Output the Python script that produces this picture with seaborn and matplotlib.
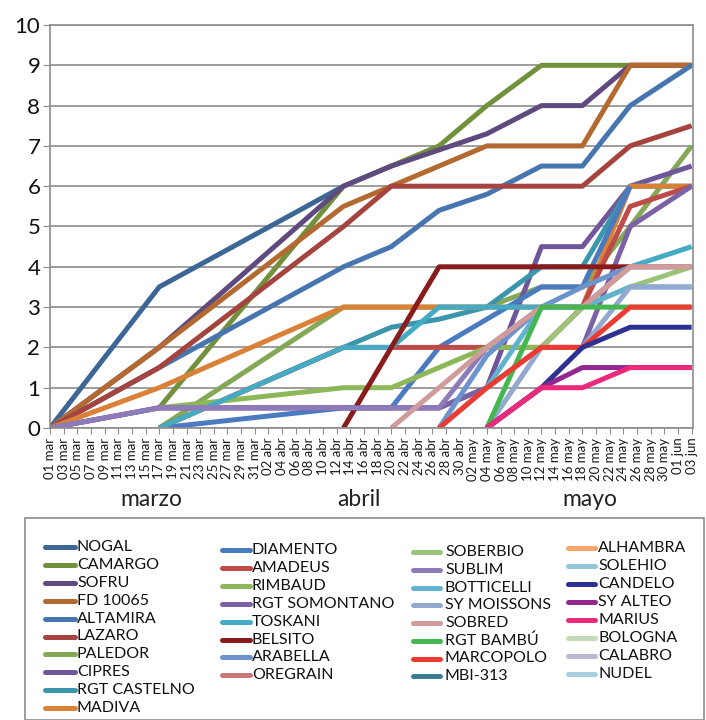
import numpy as np
import pandas as pd
import matplotlib
matplotlib.use('Agg')
import matplotlib.pyplot as plt
import seaborn as sns
from matplotlib.lines import Line2D
from matplotlib.patches import Rectangle

nan = np.nan

# fechas de observación
dates = ['2014-03-01', '2014-03-17', '2014-04-13', '2014-04-20', '2014-04-27',
         '2014-05-04', '2014-05-12', '2014-05-18', '2014-05-25', '2014-06-03']

names = ['NOGAL', 'CAMARGO', 'SOFRU', 'FD 10065', 'ALTAMIRA', 'LAZARO', 'PALEDOR',
         'CIPRES', 'RGT CASTELNO', 'MADIVA', 'DIAMENTO', 'AMADEUS', 'RIMBAUD',
         'RGT SOMONTANO', 'TOSKANI', 'BELSITO', 'ARABELLA', 'OREGRAIN', 'SOBERBIO',
         'SUBLIM', 'BOTTICELLI', 'SY MOISSONS', 'SOBRED', 'RGT BAMBÚ', 'MARCOPOLO',
         'MBI-313', 'ALHAMBRA', 'SOLEHIO', 'CANDELO', 'SY ALTEO', 'MARIUS',
         'BOLOGNA', 'CALABRO', 'NUDEL']

colors = ['#3b6695', '#71913d', '#5e4a7e', '#b3692f', '#4675b0', '#a5443f', '#84a857',
          '#6f569a', '#3b95ab', '#da8138', '#4a7abf', '#be4b48', '#8db85a',
          '#7b62a5', '#45aac4', '#881c1c', '#6d93cc', '#c97778', '#9cc37a',
          '#8e7cba', '#62b3cf', '#93a9d0', '#d09b9b', '#45b750', '#ee3b32',
          '#3b7e8f', '#f9a66a', '#93c6d6', '#2e3192', '#92278f', '#ec297b',
          '#c3d9b8', '#bdb7d3', '#a9cfe0']

nogal = [0, 3.5, 6, nan, nan, nan, nan, nan, nan, nan]
camargo = [nan, 0.5, 6, 6.5, 7, 8, 9, 9, 9, 9]
sofru = [0, 2, 6, 6.5, 6.9, 7.3, 8, 8, 9, 9]
fd10065 = [0, 2, 5.5, 6, 6.5, 7, 7, 7, 9, 9]
altamira = [0, 1.5, 4, 4.5, 5.4, 5.8, 6.5, 6.5, 8, 9]
lazaro = [0, 1.5, 5, 6, 6, 6, 6, 6, 7, 7.5]
paledor = [nan, 0, 3, 3, 3, 3, 3.5, 3.5, 5, 7]
cipres = [0, 0.5, 0.5, 0.5, 0.5, 1, 4.5, 4.5, 6, 6.5]
castelno = [nan, 0, 2, 2.5, 2.7, 3, 4, 4, 6, 6]
madiva = [0, 1, 3, 3, 3, 3, 3, 3, 6, 6]
diamento = [nan, 0, 0.5, 0.5, 2, 2.7, 3.5, 3.5, 6, nan]
amadeus = [nan, 0, 2, 2, 2, 2, 2, 3, 5.5, 6]
rimbaud = [nan, 0.5, 1, 1, 1.5, 2, 2, nan, nan, nan]
somontano = [0, 0.5, 0.5, 0.5, 0.5, 1, 2, 2, 5, 6]
toskani = [nan, 0, 2, 2, 3, 3, 3, 3, 4, 4.5]
belsito = [nan, nan, 0, 2, 4, 4, 4, 4, 4, nan]
arabella = [nan, nan, nan, nan, 0, 1.8, 3, 3.5, 4, 4]
oregrain = [nan, nan, nan, nan, nan, nan, 2, 3, 4, 4]
soberbio = [nan, nan, nan, nan, nan, nan, 2, 3, 3.5, 4]
sublim = [0, 0.5, 0.5, 0.5, 0.5, 2, 3, 3, nan, nan]
botticelli = [nan, nan, nan, nan, 0, 1, 3, 3, 3.5, 3.5]
moissons = [nan, nan, nan, nan, nan, 0, 2, 2, 3.5, 3.5]
sobred = [nan, nan, nan, 0, 1, 2, 3, 3, 4, 4]
bambu = [nan, nan, nan, nan, nan, 0, 3, 3, 3, 3]
marcopolo = [nan, nan, nan, nan, 0, 1, 2, 2, 3, 3]
mbi313 = [nan] * 10
alhambra = [nan] * 10
solehio = [nan] * 10
candelo = [nan, nan, nan, nan, nan, 0, 1, 2, 2.5, 2.5]
syalteo = [nan, nan, nan, nan, nan, 0, 1, 1.5, 1.5, 1.5]
marius = [nan, nan, nan, nan, nan, 0, 1, 1, 1.5, 1.5]
bologna = [nan] * 10
calabro = [nan] * 10
nudel = [nan] * 10

series = [nogal, camargo, sofru, fd10065, altamira, lazaro, paledor, cipres, castelno,
          madiva, diamento, amadeus, rimbaud, somontano, toskani, belsito, arabella,
          oregrain, soberbio, sublim, botticelli, moissons, sobred, bambu, marcopolo,
          mbi313, alhambra, solehio, candelo, syalteo, marius, bologna, calabro, nudel]

start = pd.Timestamp('2014-03-01')
days = (pd.to_datetime(dates) - start).days.values

rows = []
for n, vals in zip(names, series):
    for d, v in zip(days, vals):
        rows.append((n, d, v))
df = pd.DataFrame(rows, columns=['variedad', 'dia', 'valor']).dropna()

sns.set_style('white')
plt.rcParams['font.family'] = ['Lato', 'DejaVu Sans']

W, H = 706, 720
fig = plt.figure(figsize=(W / 100, H / 100), dpi=100)
ax = fig.add_axes([50 / W, 1 - 428 / H, (693 - 50) / W, (428 - 25) / H])

palette = dict(zip(names, colors))
sns.lineplot(data=df, x='dia', y='valor', hue='variedad', hue_order=names,
             palette=palette, estimator=None, sort=True, legend=False,
             linewidth=3.6, ax=ax, solid_joinstyle='round', solid_capstyle='butt')

ax.set_xlim(0, 94.2)
ax.set_ylim(0, 10)
ax.set_yticks(range(0, 11))
ax.yaxis.grid(True, color='#8c8c8c', linewidth=1.2)
ax.set_axisbelow(True)
for s in ax.spines.values():
    s.set_color('#8c8c8c')
    s.set_linewidth(1.2)

# etiquetas del eje x cada 2 días
meses = {3: 'mar', 4: 'abr', 5: 'may', 6: 'jun'}
tick_dates = pd.date_range(start, '2014-06-03', freq='2D')
tick_days = (tick_dates - start).days.values
tick_labels = [f'{t.day:02d} {meses[t.month]}' for t in tick_dates]
ax.set_xticks(tick_days)
ax.set_xticklabels(tick_labels, rotation=90, fontsize=9.5, color='#1a1a1a')
ax.tick_params(axis='x', length=4, color='#8c8c8c', pad=3, direction='out', bottom=True)
ax.tick_params(axis='y', length=5, color='#8c8c8c', labelsize=16, labelcolor='#111111',
               direction='out', left=True, pad=2)
ax.set_xlabel('')
ax.set_ylabel('')

# nombres de los meses
month_names = ['marzo', 'abril', 'mayo']
month_x = [151, 359, 590]
for m, x in zip(month_names, month_x):
    fig.text(x / W, 1 - 500 / H, m, ha='center', va='center', fontsize=16.5, color='#222222')

# leyenda manual en 4 columnas
fig.add_artist(Rectangle((25 / W, 0), (704 - 25) / W, 1 - 518 / H, transform=fig.transFigure,
                         fill=False, edgecolor='#8c8c8c', linewidth=1.2))
cols = [(0, 10, 45, 75, 77, 547, 17.9), (10, 18, 222, 250, 252, 550, 17.9),
        (18, 26, 413, 440, 445, 552, 17.75), (26, 34, 568, 595, 598, 548, 18)]
for i0, i1, hx0, hx1, tx, y0, dy in cols:
    for k, i in enumerate(range(i0, i1)):
        y = 1 - (y0 + k * dy) / H
        fig.add_artist(Line2D([hx0 / W, hx1 / W], [y, y], transform=fig.transFigure,
                              color=colors[i], linewidth=3.6, solid_capstyle='round'))
        fig.text(tx / W, y, names[i], ha='left', va='center', fontsize=11.5, color='#111111')

fig.savefig('out.png', dpi=100)
